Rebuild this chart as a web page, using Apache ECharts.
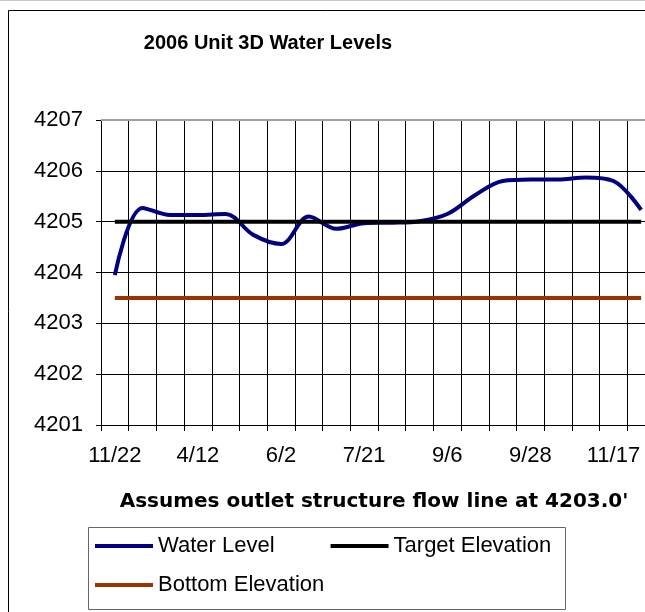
<!DOCTYPE html>
<html>
<head>
<meta charset="utf-8">
<script src="https://cdn.jsdelivr.net/npm/echarts@6/dist/echarts.min.js"></script>
<style>
html,body{margin:0;padding:0;background:#fff;}
#chart{width:645px;height:612px;}
</style>
</head>
<body>
<div id="chart"></div>
<script>
var categories = ['11/22','12/6','3/15','4/12','4/26','5/10','6/2','6/16','6/30','7/21','8/4','8/18','9/6','9/13','9/20','9/28','10/13','10/27','11/17','12/1'];
var waterLevel = [4203.95, 4205.27, 4205.13, 4205.13, 4205.15, 4204.74, 4204.56, 4205.10, 4204.86, 4204.97, 4204.98, 4205.01, 4205.15, 4205.52, 4205.80, 4205.83, 4205.83, 4205.87, 4205.80, 4205.23];
var targetElevation = [4205, 4205, 4205, 4205, 4205, 4205, 4205, 4205, 4205, 4205, 4205, 4205, 4205, 4205, 4205, 4205, 4205, 4205, 4205, 4205];
var bottomElevation = [4203.5, 4203.5, 4203.5, 4203.5, 4203.5, 4203.5, 4203.5, 4203.5, 4203.5, 4203.5, 4203.5, 4203.5, 4203.5, 4203.5, 4203.5, 4203.5, 4203.5, 4203.5, 4203.5, 4203.5];
var yTicks = [4201, 4202, 4203, 4204, 4205, 4206, 4207];

var FONT = 'Liberation Sans, Arial, sans-serif';
var chart = echarts.init(document.getElementById('chart'), null, {renderer: 'canvas'});
var option = {
  animation: false,
  backgroundColor: '#ffffff',
  title: {
    text: '2006 Unit 3D Water Levels',
    left: 268,
    top: 33,
    textAlign: 'center',
    padding: 0,
    textStyle: {fontFamily: FONT, fontSize: 20, fontWeight: 'bold', color: '#000'}
  },
  grid: {left: 101, top: 120, width: 554, height: 305, containLabel: false, outerBoundsMode: 'none'},
  xAxis: {
    type: 'category',
    data: categories,
    boundaryGap: true,
    axisLine: {show: true, lineStyle: {color: '#000', width: 1}},
    axisTick: {show: true, interval: 0, length: 6, lineStyle: {color: '#000'}},
    axisLabel: {interval: 2, margin: 20, fontFamily: FONT, fontSize: 22, color: '#000'},
    splitLine: {show: true, interval: 0, lineStyle: {color: '#000', width: 1}}
  },
  yAxis: {
    type: 'value',
    min: yTicks[0],
    max: yTicks[yTicks.length - 1],
    interval: 1,
    axisLine: {show: true, lineStyle: {color: '#000', width: 1}},
    axisTick: {show: true, length: 5, lineStyle: {color: '#000'}},
    axisLabel: {margin: 18, fontFamily: FONT, fontSize: 22, color: '#000', formatter: function (v) { return String(v); }},
    splitLine: {show: true, lineStyle: {color: '#000', width: 1}}
  },
  legend: [
    {
      left: 95, top: 535, padding: 0, itemGap: 56, itemWidth: 58, itemHeight: 4,
      icon: 'rect', orient: 'horizontal',
      textStyle: {fontFamily: FONT, fontSize: 22, color: '#000'},
      data: ['Water Level', 'Target Elevation']
    },
    {
      left: 95, top: 574, padding: 0, itemWidth: 58, itemHeight: 4,
      icon: 'rect',
      textStyle: {fontFamily: FONT, fontSize: 22, color: '#000'},
      data: ['Bottom Elevation']
    }
  ],
  graphic: [
    {type: 'line', shape: {x1: 0, y1: 0.5, x2: 645, y2: 0.5}, style: {stroke: '#c8c8c8', lineWidth: 1}},
    {type: 'polyline', shape: {points: [[8.5, 612], [8.5, 10.5], [645, 10.5]]}, style: {stroke: '#000', lineWidth: 1, fill: null}},
    {type: 'rect', shape: {x: 88.5, y: 527.5, width: 477, height: 82}, style: {stroke: '#666', lineWidth: 1, fill: null}, z: 1},
    {type: 'text', x: 374, y: 502, style: {text: "Assumes outlet structure flow line at 4203.0'", fontFamily: 'DejaVu Sans', fontWeight: 'bold', fontSize: 20, fill: '#000', align: 'center', verticalAlign: 'middle'}}
  ],
  series: [
    {
      name: 'Water Level', type: 'line', data: waterLevel, smooth: 0.35,
      showSymbol: false, symbol: 'none',
      itemStyle: {color: '#000080'},
      lineStyle: {color: '#000080', width: 4},
      markLine: {
        silent: true, symbol: ['none', 'none'], label: {show: false},
        lineStyle: {color: '#a0a0a0', width: 2, type: 'solid'},
        data: [{yAxis: yTicks[yTicks.length - 1]}]
      }
    },
    {
      name: 'Target Elevation', type: 'line', data: targetElevation,
      showSymbol: false, symbol: 'none',
      itemStyle: {color: '#000000'},
      lineStyle: {color: '#000000', width: 4}
    },
    {
      name: 'Bottom Elevation', type: 'line', data: bottomElevation,
      showSymbol: false, symbol: 'none',
      itemStyle: {color: '#993300'},
      lineStyle: {color: '#993300', width: 4}
    }
  ]
};
chart.setOption(option);
</script>
</body>
</html>
